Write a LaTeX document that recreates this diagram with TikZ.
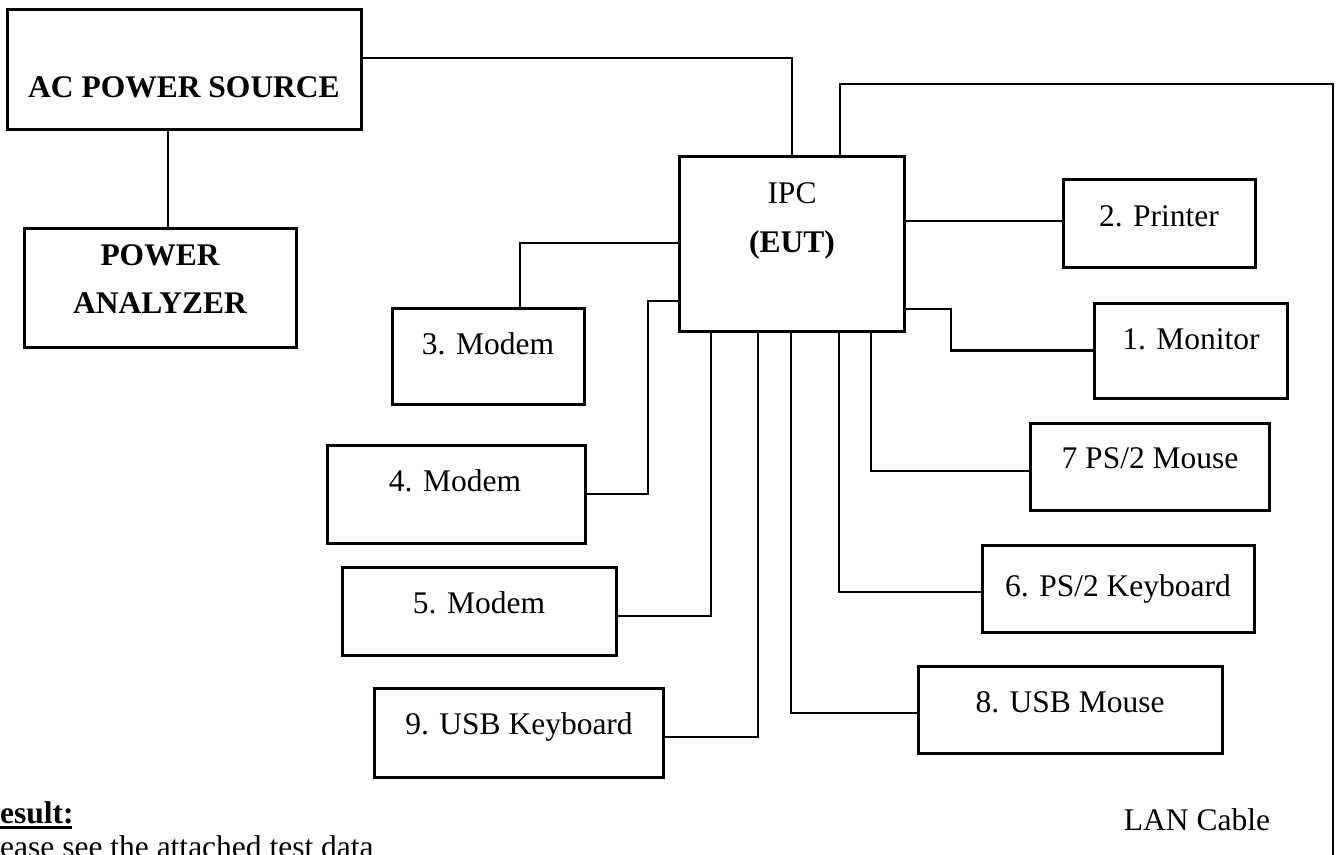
\documentclass[tikz,border=0pt]{standalone}
\usepackage{fontspec}
\setmainfont{Liberation Serif}
\begin{document}
\begin{tikzpicture}[x=1pt,y=-1pt,
  box/.style={draw, line width=3pt, inner sep=0pt},
  lbl/.style={inner sep=0pt, anchor=base, font=\fontsize{31.5}{37}\selectfont},
  blbl/.style={lbl, font=\fontsize{31.5}{37}\selectfont\bfseries},
  wire/.style={line width=2.5pt}]
\useasboundingbox (0,0) rectangle (1337,854);
\clip (0,0) rectangle (1337,854);
% boxes
\node[box, minimum width=354pt, minimum height=120pt] (ac)  at (184,69) {};
\node[box, minimum width=272pt, minimum height=119pt] (pa)  at (160,287.5) {};
\node[box, minimum width=225pt, minimum height=175pt] (ipc) at (791.5,243.5) {};
\node[box, minimum width=192pt, minimum height=88pt]  (prt) at (1159,223) {};
\node[box, minimum width=193pt, minimum height=95pt]  (mon) at (1190.5,350.5) {};
\node[box, minimum width=239pt, minimum height=87pt]  (ms2) at (1149.5,466.5) {};
\node[box, minimum width=272pt, minimum height=87pt]  (kb2) at (1118,588.5) {};
\node[box, minimum width=304pt, minimum height=87pt]  (um)  at (1070,709.5) {};
\node[box, minimum width=192pt, minimum height=96pt]  (m3)  at (488,356) {};
\node[box, minimum width=258pt, minimum height=98pt]  (m4)  at (456,494) {};
\node[box, minimum width=274pt, minimum height=88pt]  (m5)  at (479,611) {};
\node[box, minimum width=289pt, minimum height=89pt]  (uk)  at (518.5,732.5) {};
% texts
\node[blbl] (ac-t)  at (184,97) {AC POWER SOURCE};
\node[blbl] (pa-t1) at (160,265) {POWER};
\node[blbl] (pa-t2) at (160,313) {ANALYZER};
\node[lbl]  (ipc-t1) at (792,203) {IPC};
\node[blbl] (ipc-t2) at (792,252) {(EUT)};
\node[lbl] (prt-t) at (1159,226) {2. Printer};
\node[lbl] (mon-t) at (1191,349) {1. Monitor};
\node[lbl] (ms2-t) at (1150,468) {7 PS/2 Mouse};
\node[lbl] (kb2-t) at (1118,596) {6. PS/2 Keyboard};
\node[lbl] (um-t)  at (1070,712) {8. USB Mouse};
\node[lbl] (m3-t)  at (488,354) {3. Modem};
\node[lbl] (m4-t)  at (455,491) {4. Modem};
\node[lbl] (m5-t)  at (479,613) {5. Modem};
\node[lbl] (uk-t)  at (519,734) {9. USB Keyboard};
\node[lbl] (lan-t) at (1197,830) {LAN Cable};
\node[blbl, anchor=base west] (res) at (0,823) {esult:};
\draw[line width=2.5pt] (res.base west) ++(0,4.5) -- ++(72,0);
\node[lbl, anchor=base west] (note) at (0,857) {ease see the attached test data};
% connectors
\coordinate (lanA) at (1333,84);
\coordinate (lanEnd) at (1333,870);
\draw[wire] (ac.east |- 0,58) -| (ipc.north -| 792,0);
\draw[wire] (ac.south -| 168,0) -- (pa.north -| 168,0);
\draw[wire] (ipc.north -| 840,0) |- (lanA) -- (lanEnd);
\draw[wire] (ipc.east |- 0,221) -- (prt.west |- 0,221);
\draw[wire] (ipc.east |- 0,309) -| (mon.west -| 951,0) -- (mon.west);
\draw[wire] (ipc.south -| 871,0) |- (ms2.west |- 0,471);
\draw[wire] (ipc.south -| 839,0) |- (kb2.west |- 0,592);
\draw[wire] (ipc.south -| 791,0) |- (um.west |- 0,713);
\draw[wire] (ipc.south -| 758,0) |- (uk.east |- 0,737);
\draw[wire] (ipc.south -| 711,0) |- (m5.east |- 0,616);
\draw[wire] (ipc.west |- 0,301) -| (m4.east -| 648,0) -- (m4.east);
\draw[wire] (ipc.west |- 0,243) -| (m3.north -| 520,0);
\end{tikzpicture}
\end{document}
